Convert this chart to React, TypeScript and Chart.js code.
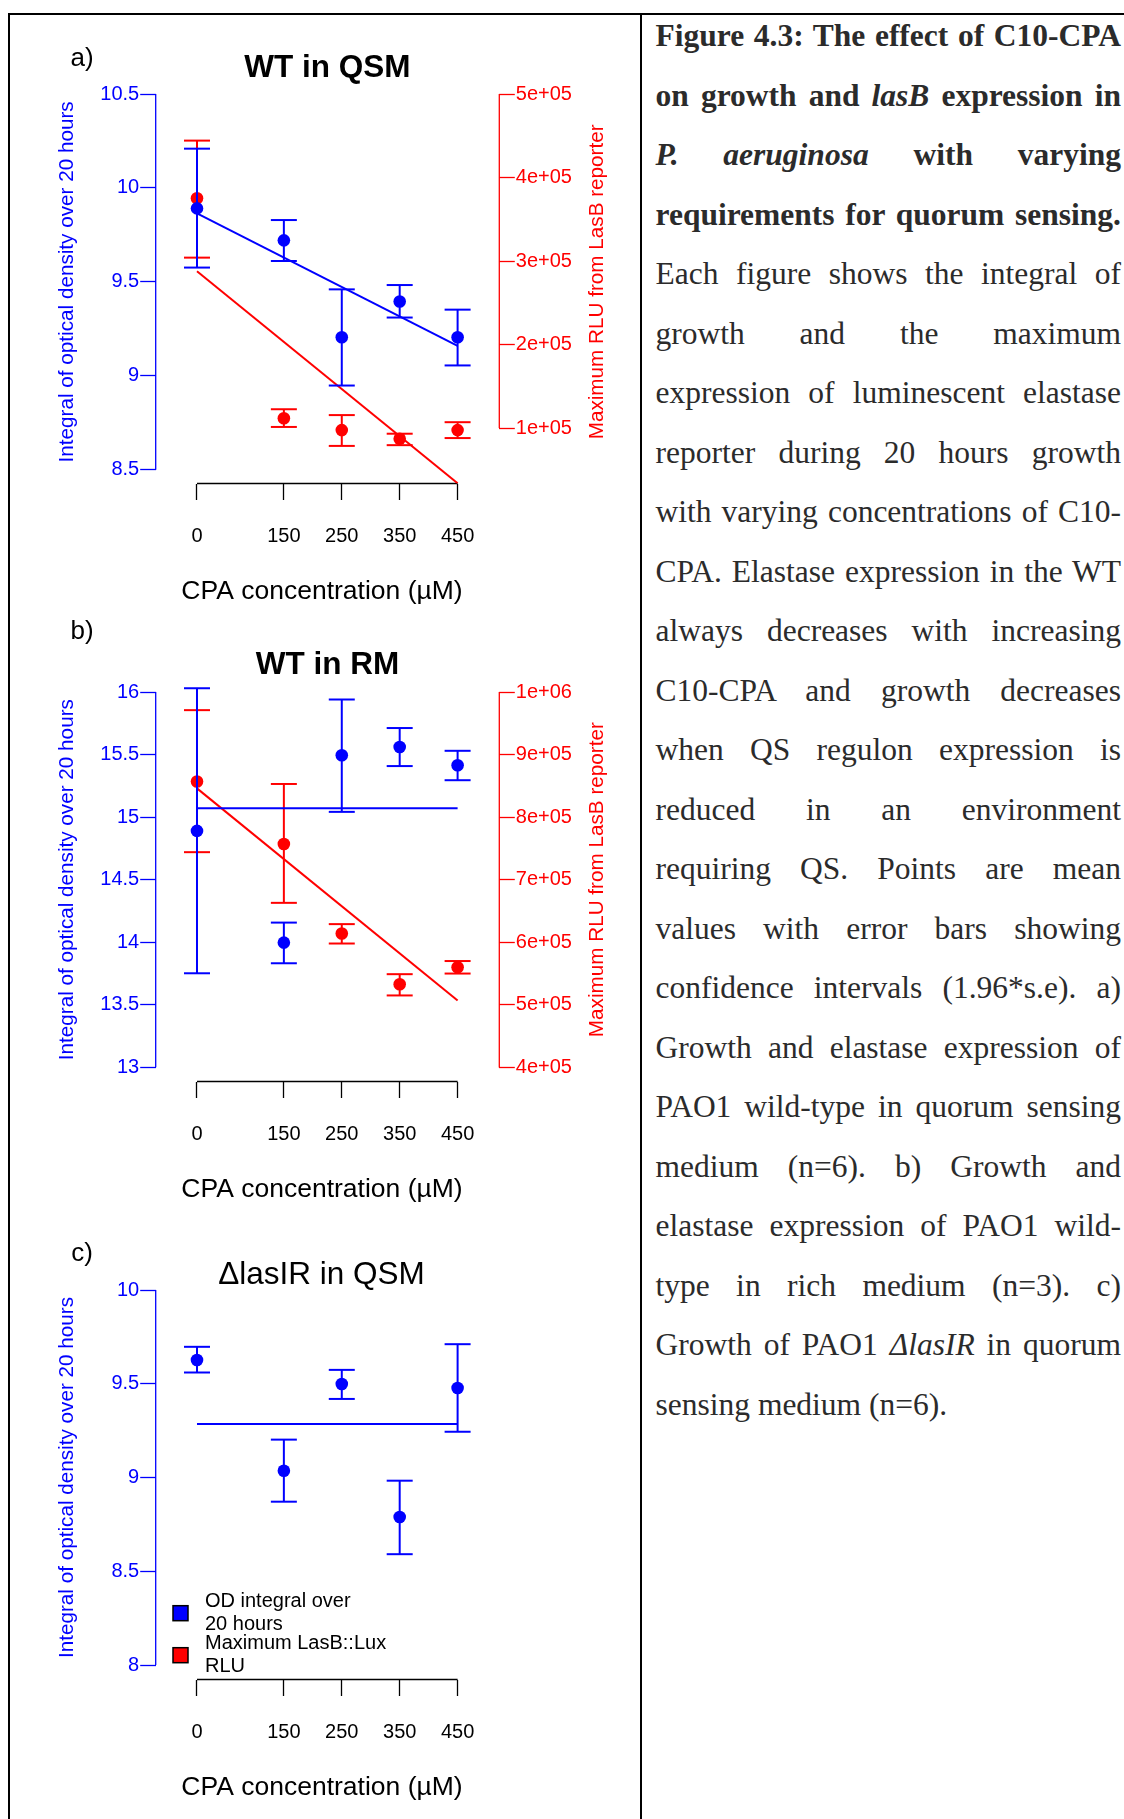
import React, { useEffect, useRef } from "react";
import { Chart, registerables } from "chart.js";

Chart.register(...registerables);

// ---------- data ----------
const concentrations = [0, 150, 250, 350, 450];
const fitEnds = [0, 450];
const xTicks = [0, 150, 250, 350, 450];

// a) WT in QSM
const wtQsmOd = [9.891, 9.721, 9.205, 9.395, 9.205];
const wtQsmOdLow = [9.576, 9.611, 8.948, 9.31, 9.055];
const wtQsmOdHigh = [10.209, 9.829, 9.46, 9.483, 9.352];
const wtQsmOdFit = [9.864, 9.159];
const wtQsmOdTicks = [8.5, 9, 9.5, 10, 10.5];
const wtQsmRlu = [375200, 111900, 97600, 87200, 97600];
const wtQsmRluLow = [304100, 101400, 78700, 79600, 88100];
const wtQsmRluHigh = [444200, 122600, 115600, 93300, 107100];
const wtQsmRluFit = [287800, 34000];
const wtQsmRluTicks = [100000, 200000, 300000, 400000, 500000];

// b) WT in RM
const wtRmOd = [14.89, 13.997, 15.494, 15.56, 15.415];
const wtRmOdLow = [13.752, 13.832, 15.042, 15.408, 15.295];
const wtRmOdHigh = [16.03, 14.157, 15.94, 15.712, 15.53];
const wtRmOdFit = [15.071, 15.071];
const wtRmOdTicks = [13, 13.5, 14, 14.5, 15, 15.5, 16];
const wtRmRlu = [857000, 757000, 614000, 533000, 560000];
const wtRmRluLow = [744000, 663000, 598000, 515000, 550000];
const wtRmRluHigh = [971000, 853000, 629000, 549000, 570000];
const wtRmRluFit = [846000, 507000];
const wtRmRluTicks = [400000, 500000, 600000, 700000, 800000, 900000, 1000000];

// c) ΔlasIR in QSM
const lasIROd = [9.627, 9.036, 9.499, 8.789, 9.477];
const lasIROdLow = [9.56, 8.871, 9.419, 8.591, 9.244];
const lasIROdHigh = [9.697, 9.202, 9.574, 8.983, 9.711];
const lasIROdFit = [9.286, 9.286];
const lasIROdTicks = [8, 8.5, 9, 9.5, 10];

const legendLabels = [
  ["OD integral over", "20 hours"],
  ["Maximum LasB::Lux", "RLU"],
];

// ---------- style ----------
const SANS = "'Liberation Sans', Arial, Helvetica, sans-serif";
const SERIF = "'Liberation Serif', 'Times New Roman', serif";
const BLUE = "#0000ff";
const RED = "#ff0000";
const CANVAS_W = 640;
const CANVAS_H = 620;
const PLOT = { left: 155.7, right: 499.3, top: 94, bottom: 483.5 };
const LEFT_AXIS_W = 80;
const RIGHT_AXIS_W = 90;
const X_AXIS_H = 60;
const CAP = 13;
const X_TITLE = "CPA concentration (\u00b5M)";
const OD_TITLE = "Integral of optical density over 20 hours";
const RLU_TITLE = "Maximum RLU from LasB reporter";

const plain = (v: number) => String(v);
const sci = (v: number) => {
  const e = Math.floor(Math.log10(v) + 1e-9);
  const m = Math.round(v / Math.pow(10, e));
  return `${m}e+${String(e).padStart(2, "0")}`;
};

interface Series {
  color: string;
  values: number[];
  low: number[];
  high: number[];
  fit: number[];
  ticks: number[];
  min: number;
  max: number;
  label: (v: number) => string;
  title: string;
}

interface PanelDef {
  top: number;
  letter: string;
  letterY: number;
  title: string;
  bold: boolean;
  titleX: number;
  titleY: number;
  od: Series;
  rlu?: Series;
  legend: boolean;
}

const PANELS: PanelDef[] = [
  {
    top: 0,
    letter: "a)",
    letterY: 58.7,
    title: "WT in QSM",
    bold: true,
    titleX: 327.4,
    titleY: 68.5,
    od: {
      color: BLUE, values: wtQsmOd, low: wtQsmOdLow, high: wtQsmOdHigh, fit: wtQsmOdFit,
      ticks: wtQsmOdTicks, min: 8.4265, max: 10.5, label: plain, title: OD_TITLE,
    },
    rlu: {
      color: RED, values: wtQsmRlu, low: wtQsmRluLow, high: wtQsmRluHigh, fit: wtQsmRluFit,
      ticks: wtQsmRluTicks, min: 33700, max: 500000, label: sci, title: RLU_TITLE,
    },
    legend: false,
  },
  {
    top: 598,
    letter: "b)",
    letterY: 33.6,
    title: "WT in RM",
    bold: true,
    titleX: 327.4,
    titleY: 67.5,
    od: {
      color: BLUE, values: wtRmOd, low: wtRmOdLow, high: wtRmOdHigh, fit: wtRmOdFit,
      ticks: wtRmOdTicks, min: 12.887, max: 16, label: plain, title: OD_TITLE,
    },
    rlu: {
      color: RED, values: wtRmRlu, low: wtRmRluLow, high: wtRmRluHigh, fit: wtRmRluFit,
      ticks: wtRmRluTicks, min: 377460, max: 1000000, label: sci, title: RLU_TITLE,
    },
    legend: false,
  },
  {
    top: 1196,
    letter: "c)",
    letterY: 58,
    title: "\u0394lasIR in QSM",
    bold: false,
    titleX: 321.5,
    titleY: 79,
    od: {
      color: BLUE, values: lasIROd, low: lasIROdLow, high: lasIROdHigh, fit: lasIROdFit,
      ticks: lasIROdTicks, min: 7.9227, max: 10, label: plain, title: OD_TITLE,
    },
    legend: true,
  },
];

// ---------- chart ----------
function makeChart(canvas: HTMLCanvasElement, p: PanelDef) {
  const toPoints = (xs: number[], ys: number[]) => xs.map((x, i) => ({ x, y: ys[i] }));
  const seriesSets = (s: Series, axis: string) => [
    {
      label: s.title,
      data: toPoints(concentrations, s.values),
      yAxisID: axis,
      showLine: false,
      pointRadius: 6.3,
      pointHoverRadius: 6.3,
      pointBorderWidth: 0,
      backgroundColor: s.color,
      borderColor: s.color,
      errLow: s.low,
      errHigh: s.high,
    },
    {
      label: s.title + " fit",
      data: toPoints(fitEnds, s.fit),
      yAxisID: axis,
      showLine: true,
      pointRadius: 0,
      borderWidth: 2,
      borderColor: s.color,
      backgroundColor: s.color,
      fill: false,
    },
  ];
  const datasets: any[] = [...seriesSets(p.od, "yL"), ...(p.rlu ? seriesSets(p.rlu, "yR") : [])];

  const yScale = (s: Series, position: "left" | "right", width: number) => ({
    type: "linear",
    position,
    min: s.min,
    max: s.max,
    bounds: "data",
    afterBuildTicks: (scale: any) => {
      scale.ticks = s.ticks.map((v) => ({ value: v }));
    },
    afterFit: (scale: any) => {
      scale.width = width;
    },
    grid: {
      display: true,
      drawOnChartArea: false,
      drawTicks: true,
      tickLength: 15.5,
      tickColor: s.color,
      tickWidth: 1.3,
    },
    border: { display: false },
    ticks: {
      color: s.color,
      font: { family: SANS, size: 20 },
      padding: 1,
      autoSkip: false,
      callback: (v: any) => s.label(Number(v)),
    },
  });

  const scales: any = {
    x: {
      type: "linear",
      position: "bottom",
      min: -71.3,
      max: 522,
      bounds: "data",
      afterBuildTicks: (scale: any) => {
        scale.ticks = xTicks.map((v) => ({ value: v }));
      },
      afterFit: (scale: any) => {
        scale.height = X_AXIS_H;
      },
      grid: {
        display: true,
        drawOnChartArea: false,
        drawTicks: true,
        tickLength: 16.5,
        tickColor: "#000",
        tickWidth: 1.3,
      },
      border: { display: false },
      ticks: {
        color: "#000",
        font: { family: SANS, size: 20 },
        padding: 24.7,
        autoSkip: false,
        maxRotation: 0,
        minRotation: 0,
        callback: (v: any) => String(v),
      },
    },
    yL: yScale(p.od, "left", LEFT_AXIS_W),
  };
  if (p.rlu) scales.yR = yScale(p.rlu, "right", RIGHT_AXIS_W);

  const text = (
    ctx: CanvasRenderingContext2D,
    s: string,
    x: number,
    y: number,
    font: string,
    color: string,
    align: CanvasTextAlign = "center",
    rot = 0
  ) => {
    ctx.save();
    ctx.translate(x, y);
    if (rot) ctx.rotate(rot);
    ctx.font = font;
    ctx.fillStyle = color;
    ctx.textAlign = align;
    ctx.textBaseline = "middle";
    ctx.fillText(s, 0, 0);
    ctx.restore();
  };

  const line = (ctx: CanvasRenderingContext2D, x1: number, y1: number, x2: number, y2: number, color: string, w: number) => {
    ctx.beginPath();
    ctx.moveTo(x1, y1);
    ctx.lineTo(x2, y2);
    ctx.strokeStyle = color;
    ctx.lineWidth = w;
    ctx.stroke();
  };

  const rStyle = {
    id: "rStyle",
    beforeDatasetsDraw(chart: any) {
      const { ctx, chartArea, scales: sc } = chart;
      ctx.save();
      const xs = sc.x;
      line(ctx, xs.getPixelForValue(xTicks[0]), chartArea.bottom, xs.getPixelForValue(xTicks[xTicks.length - 1]), chartArea.bottom, "#000", 1.3);
      const yl = sc.yL;
      const lt = p.od.ticks;
      line(ctx, chartArea.left, yl.getPixelForValue(lt[0]), chartArea.left, yl.getPixelForValue(lt[lt.length - 1]), p.od.color, 1.3);
      if (p.rlu) {
        const yr = sc.yR;
        const rt = p.rlu.ticks;
        line(ctx, chartArea.right, yr.getPixelForValue(rt[0]), chartArea.right, yr.getPixelForValue(rt[rt.length - 1]), p.rlu.color, 1.3);
      }
      ctx.restore();
    },
    beforeDatasetDraw(chart: any, args: any) {
      const ds = chart.data.datasets[args.index];
      if (!ds.errLow) return;
      const { ctx, scales: sc } = chart;
      const xs = sc.x;
      const ys = sc[args.meta.yAxisID];
      ctx.save();
      ctx.lineCap = "butt";
      ds.data.forEach((pt: any, i: number) => {
        const x = xs.getPixelForValue(pt.x);
        const yLo = ys.getPixelForValue(ds.errLow[i]);
        const yHi = ys.getPixelForValue(ds.errHigh[i]);
        line(ctx, x, yLo, x, yHi, ds.borderColor, 2);
        line(ctx, x - CAP, yLo, x + CAP, yLo, ds.borderColor, 2);
        line(ctx, x - CAP, yHi, x + CAP, yHi, ds.borderColor, 2);
      });
      ctx.restore();
    },
    afterDraw(chart: any) {
      const { ctx, scales: sc } = chart;
      text(ctx, p.letter, 82, p.letterY, `26px ${SANS}`, "#000");
      text(ctx, p.title, p.titleX, p.titleY, `${p.bold ? "bold " : ""}31.5px ${SANS}`, "#000");
      text(ctx, X_TITLE, 322, 592, `26.5px ${SANS}`, "#000");

      // both axis titles are centred on the span of the left axis
      const yl = sc.yL;
      const lt = p.od.ticks;
      const mid = (yl.getPixelForValue(lt[0]) + yl.getPixelForValue(lt[lt.length - 1])) / 2;
      text(ctx, p.od.title, 67.3, mid, `20.7px ${SANS}`, p.od.color, "center", -Math.PI / 2);
      if (p.rlu) {
        text(ctx, p.rlu.title, 597.6, mid, `20.7px ${SANS}`, p.rlu.color, "center", -Math.PI / 2);
      }

      if (p.legend) {
        const boxes = [
          { color: BLUE, y: 417.2 },
          { color: RED, y: 459.2 },
        ];
        boxes.forEach((b, i) => {
          ctx.save();
          ctx.fillStyle = b.color;
          ctx.fillRect(173, b.y - 7.5, 15, 15);
          ctx.strokeStyle = "#000";
          ctx.lineWidth = 1.5;
          ctx.strokeRect(173, b.y - 7.5, 15, 15);
          ctx.restore();
          const lines = legendLabels[i];
          text(ctx, lines[0], 205, b.y - 11.3, `20px ${SANS}`, "#000", "left");
          text(ctx, lines[1], 205, b.y + 11.3, `20px ${SANS}`, "#000", "left");
        });
      }
    },
  };

  return new Chart(canvas, {
    type: "scatter",
    data: { datasets },
    options: {
      animation: false,
      responsive: false,
      maintainAspectRatio: false,
      devicePixelRatio: 1,
      events: [],
      layout: {
        padding: {
          left: PLOT.left - LEFT_AXIS_W,
          right: p.rlu ? CANVAS_W - PLOT.right - RIGHT_AXIS_W : CANVAS_W - PLOT.right,
          top: PLOT.top,
          bottom: CANVAS_H - PLOT.bottom - X_AXIS_H,
        },
      },
      plugins: {
        legend: { display: false },
        tooltip: { enabled: false },
        title: { display: false },
      },
      scales,
    } as any,
    plugins: [rStyle as any],
  });
}

function Panel({ def }: { def: PanelDef }) {
  const ref = useRef<HTMLCanvasElement>(null);
  useEffect(() => {
    if (!ref.current) return;
    const chart = makeChart(ref.current, def);
    return () => chart.destroy();
  }, [def]);
  return (
    <canvas
      ref={ref}
      width={CANVAS_W}
      height={CANVAS_H}
      style={{ position: "absolute", left: 0, top: def.top, width: CANVAS_W, height: CANVAS_H }}
    />
  );
}

// ---------- caption ----------
interface Seg {
  t: string;
  b?: boolean;
  i?: boolean;
}

const CAPTION: Seg[][] = [
  [{ t: "Figure 4.3: The effect of C10-CPA", b: true }],
  [{ t: "on growth and ", b: true }, { t: "lasB", b: true, i: true }, { t: " expression in", b: true }],
  [{ t: "P. aeruginosa", b: true, i: true }, { t: " with varying", b: true }],
  [{ t: "requirements for quorum sensing.", b: true }],
  [{ t: "Each figure shows the integral of" }],
  [{ t: "growth and the maximum" }],
  [{ t: "expression of luminescent elastase" }],
  [{ t: "reporter during 20 hours growth" }],
  [{ t: "with varying concentrations of C10-" }],
  [{ t: "CPA. Elastase expression in the WT" }],
  [{ t: "always decreases with increasing" }],
  [{ t: "C10-CPA and growth decreases" }],
  [{ t: "when QS regulon expression is" }],
  [{ t: "reduced in an environment" }],
  [{ t: "requiring QS. Points are mean" }],
  [{ t: "values with error bars showing" }],
  [{ t: "confidence intervals (1.96*s.e). a)" }],
  [{ t: "Growth and elastase expression of" }],
  [{ t: "PAO1 wild-type in quorum sensing" }],
  [{ t: "medium (n=6). b) Growth and" }],
  [{ t: "elastase expression of PAO1 wild-" }],
  [{ t: "type in rich medium (n=3). c)" }],
  [{ t: "Growth of PAO1 " }, { t: "\u0394lasIR", i: true }, { t: " in quorum" }],
  [{ t: "sensing medium (n=6)." }],
];

function Caption() {
  return (
    <div
      style={{
        position: "absolute",
        left: 655.5,
        top: 6,
        width: 465.5,
        fontFamily: SERIF,
        fontSize: 31.5,
        lineHeight: "59.5px",
        color: "#2b2b2b",
      }}
    >
      {CAPTION.map((segs, li) => {
        const last = li === CAPTION.length - 1;
        return (
          <div
            key={li}
            style={{
              height: 59.5,
              whiteSpace: "nowrap",
              textAlign: last ? "left" : "justify",
              textAlignLast: last ? "left" : "justify",
            } as React.CSSProperties}
          >
            {segs.map((s, si) => (
              <span key={si} style={{ fontWeight: s.b ? "bold" : "normal", fontStyle: s.i ? "italic" : "normal" }}>
                {s.t}
              </span>
            ))}
          </div>
        );
      })}
    </div>
  );
}

export default function App() {
  return (
    <div style={{ position: "absolute", left: 0, top: 0, width: 1124, height: 1819, background: "#fff", overflow: "hidden" }}>
      {PANELS.map((p, i) => (
        <Panel key={i} def={p} />
      ))}
      <Caption />
      <div style={{ position: "absolute", left: 8, top: 13, width: 1116, height: 2, background: "#000" }} />
      <div style={{ position: "absolute", left: 8, top: 13, width: 2, height: 1806, background: "#000" }} />
      <div style={{ position: "absolute", left: 640, top: 13, width: 2, height: 1806, background: "#000" }} />
    </div>
  );
}
